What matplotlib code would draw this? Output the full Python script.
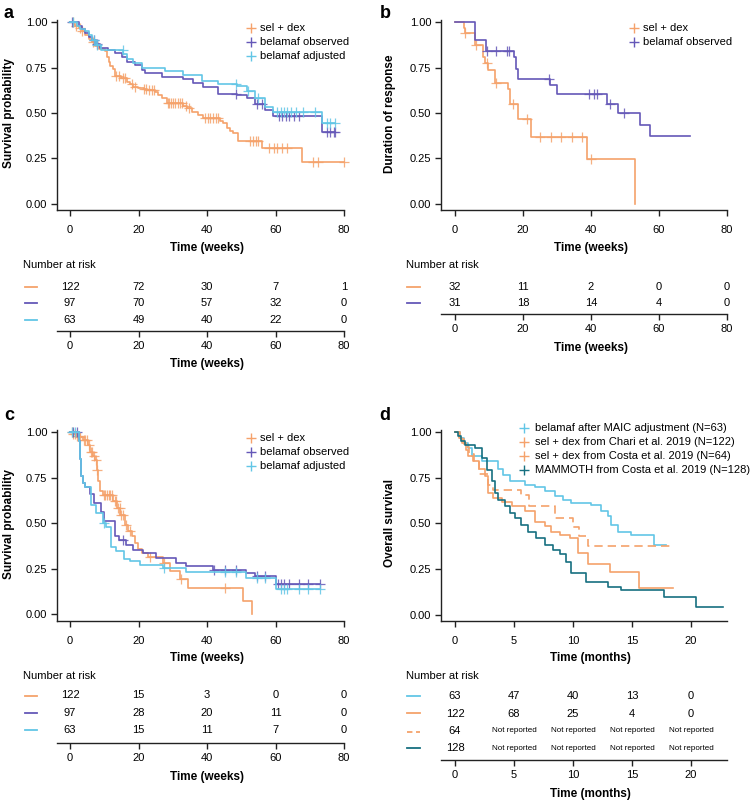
import numpy as np
import matplotlib
matplotlib.use("Agg")
import matplotlib.pyplot as plt
from matplotlib.lines import Line2D

plt.rcParams['font.family'] = ['Liberation Sans', 'DejaVu Sans']

# ---------------- colours ----------------
C_SEL = '#F5A26B'
C_OBS = '#6558B8'
C_ADJ = '#62C6E6'
C_MAM = '#177080'

# ---------------- panel a : overall survival (weeks) ----------------
a_sel_t = [0, 1.0, 1.5, 2.5, 3.5, 4.5, 5.5, 6.3, 7.3, 8.5, 10.2, 10.8, 11.3, 11.8, 12.5, 13.1, 15.0, 16.5,
           17.5, 18.5, 19.9, 21.5, 22.5, 24.8, 25.8, 26.8, 28.2, 33.1, 34.3, 35.5, 37.5, 38.9, 43.8, 44.8,
           45.7, 46.7, 47.5, 49.1, 56.0, 67.7]
a_sel_s = [1.0, 0.99, 0.98, 0.97, 0.95, 0.93, 0.91, 0.89, 0.87, 0.855, 0.84, 0.81, 0.78, 0.76, 0.74, 0.705,
           0.69, 0.672, 0.66, 0.645, 0.636, 0.63, 0.625, 0.617, 0.60, 0.581, 0.557, 0.54, 0.525, 0.507,
           0.489, 0.474, 0.455, 0.443, 0.415, 0.40, 0.388, 0.348, 0.309, 0.229]
a_sel_end = 80.0
a_sel_cens = [0.8, 1.8, 2.8, 3.5, 6.7, 13.5, 14.3, 15.5, 16.0, 18.0, 19.0, 21.5, 22.3, 23.0, 23.8, 24.5,
              28.5, 29.0, 29.6, 30.2, 30.8, 31.5, 32.2, 32.8, 34.0, 34.8, 39.5, 40.2, 41.0, 41.8, 42.6,
              43.3, 52.5, 53.3, 54.2, 55.0, 58.0, 59.5, 60.5, 62.0, 63.5, 71.0, 72.3, 80.0]

a_obs_t = [0, 2.5, 3.5, 4.5, 5.5, 6.5, 7.5, 8.8, 11.0, 13.0, 15.1, 16.5, 19.0, 20.9, 21.9, 27.0, 33.1,
           36.0, 38.9, 43.3, 48.7, 51.6, 54.0, 57.0, 59.4, 73.5]
a_obs_s = [1.0, 0.98, 0.96, 0.94, 0.92, 0.9, 0.88, 0.86, 0.845, 0.83, 0.81, 0.782, 0.764, 0.736, 0.72,
           0.70, 0.685, 0.665, 0.641, 0.605, 0.60, 0.58, 0.547, 0.516, 0.485, 0.397]
a_obs_end = 77.4
a_obs_cens = [0.5, 7.0, 8.0, 48.5, 54.5, 56.0, 61.0, 62.0, 63.0, 64.0, 65.5, 67.0, 75.0, 76.0, 77.0, 77.4]

a_adj_t = [0, 2.0, 3.0, 4.5, 5.5, 6.5, 7.5, 9.0, 15.6, 16.5, 18.5, 20.9, 27.7, 33.1, 38.4, 43.3, 48.7,
           51.6, 54.0, 57.0, 59.4, 73.5]
a_adj_s = [1.0, 0.98, 0.965, 0.95, 0.93, 0.9, 0.875, 0.846, 0.825, 0.80, 0.775, 0.745, 0.73, 0.71, 0.675,
           0.66, 0.648, 0.62, 0.58, 0.535, 0.507, 0.443]
a_adj_end = 77.4
a_adj_cens = [1.0, 7.0, 8.0, 15.5, 48.5, 52.0, 55.0, 60.5, 61.5, 62.5, 63.5, 64.5, 66.0, 68.0, 71.5,
              75.0, 76.0, 77.4]

a_risk_sel = [122, 72, 30, 7, 1]
a_risk_obs = [97, 70, 57, 32, 0]
a_risk_adj = [63, 49, 40, 22, 0]

# ---------------- panel b : duration of response ----------------
b_sel_t = [0, 2.6, 3.0, 5.9, 8.3, 8.8, 9.8, 11.8, 15.5, 16.2, 18.6, 22.3, 38.9, 52.9]
b_sel_s = [1.0, 0.97, 0.94, 0.874, 0.81, 0.773, 0.737, 0.666, 0.63, 0.548, 0.467, 0.37, 0.245, 0.0]
b_sel_end = 52.9
b_sel_cens = [3.0, 6.2, 9.5, 12.0, 17.0, 21.3, 25.0, 28.2, 31.3, 34.3, 37.3, 40.0]

b_obs_t = [0, 5.9, 9.0, 17.3, 17.8, 18.4, 28.0, 30.0, 44.8, 48.0, 54.4, 57.3]
b_obs_s = [1.0, 0.903, 0.839, 0.806, 0.742, 0.686, 0.653, 0.605, 0.55, 0.50, 0.435, 0.371]
b_obs_end = 69.0
b_obs_cens = [9.5, 12.0, 15.3, 16.0, 27.5, 39.3, 41.0, 41.8, 45.5, 49.8]

b_risk_sel = [32, 11, 2, 0, 0]
b_risk_obs = [31, 18, 14, 4, 0]

# ---------------- panel c : progression-free survival ----------------
c_sel_t = [0, 1.0, 2.0, 2.9, 3.9, 5.35, 5.8, 6.6, 7.3, 7.8, 8.3, 8.8, 9.7, 12.6, 13.6, 14.6, 16.1, 17.0,
           18.0, 19.0, 19.9, 20.9, 22.9, 27.2, 29.2, 32.1, 34.5, 50.6, 53.0]
c_sel_s = [1.0, 0.99, 0.98, 0.97, 0.957, 0.93, 0.89, 0.87, 0.848, 0.79, 0.73, 0.675, 0.655, 0.619,
           0.582, 0.546, 0.49, 0.454, 0.427, 0.39, 0.357, 0.335, 0.316, 0.28, 0.234, 0.192, 0.143,
           0.07, 0.0]
c_sel_end = 53.0
c_sel_cens = [0.5, 1.0, 1.5, 2.0, 2.5, 3.0, 4.0, 4.5, 5.0, 5.5, 6.0, 6.5, 7.0, 7.5, 8.0, 9.8, 10.3,
              10.8, 11.3, 11.8, 12.3, 13.0, 13.5, 14.0, 14.5, 15.0, 15.5, 16.3, 17.5, 23.5, 27.5,
              32.5, 45.3]

c_obs_t = [0, 2.7, 3.0, 3.3, 3.7, 4.5, 5.7, 7.1, 9.1, 10.0, 13.0, 14.4, 16.4, 18.3, 21.3, 25.2, 31.0,
           34.0, 41.8, 51.5, 54.0, 60.1]
c_obs_s = [1.0, 0.95, 0.85, 0.76, 0.72, 0.70, 0.66, 0.61, 0.56, 0.51, 0.427, 0.408, 0.38, 0.353, 0.335,
           0.308, 0.28, 0.262, 0.24, 0.225, 0.207, 0.167]
c_obs_end = 73.0
c_obs_cens = [1.0, 2.0, 15.5, 42.0, 45.3, 48.5, 54.5, 57.0, 60.8, 61.5, 62.5, 64.0, 67.0, 69.5, 73.0]

c_adj_t = [0, 2.7, 3.0, 3.3, 3.7, 4.5, 6.1, 7.6, 9.6, 10.5, 12.0, 13.5, 15.9, 17.4, 20.3, 27.1, 34.0,
           51.5, 60.1]
c_adj_s = [1.0, 0.95, 0.85, 0.76, 0.72, 0.70, 0.6, 0.555, 0.50, 0.48, 0.37, 0.344, 0.30, 0.29, 0.27,
           0.253, 0.23, 0.198, 0.137]
c_adj_end = 73.0
c_adj_cens = [0.5, 1.5, 10.0, 27.5, 45.3, 48.5, 54.5, 57.0, 61.5, 62.5, 63.5, 67.0, 69.5, 73.0]

c_risk_sel = [122, 15, 3, 0, 0]
c_risk_obs = [97, 28, 20, 11, 0]
c_risk_adj = [63, 15, 11, 7, 0]

# ---------------- panel d : overall survival (months) ----------------
d_maic_t = [0, 0.4, 0.8, 1.1, 1.4, 2.25, 3.66, 4.08, 4.65, 5.9, 6.76, 7.6, 8.45, 9.15, 9.86, 11.55,
            12.4, 12.96, 13.24, 13.8, 14.9, 16.9]
d_maic_s = [1.0, 0.97, 0.94, 0.91, 0.87, 0.84, 0.80, 0.766, 0.73, 0.71, 0.70, 0.675, 0.648, 0.63, 0.611,
            0.6, 0.566, 0.54, 0.493, 0.456, 0.438, 0.383]
d_maic_end = 17.9

d_chari_t = [0, 0.3, 0.6, 0.9, 1.1, 1.5, 2.0, 2.5, 2.82, 3.24, 3.94, 4.79, 5.92, 6.76, 7.6, 8.17, 8.87,
             9.72, 10.4, 11.27, 13.1, 15.63]
d_chari_s = [1.0, 0.97, 0.94, 0.9, 0.87, 0.84, 0.80, 0.757, 0.666, 0.64, 0.62, 0.597, 0.566, 0.51, 0.484,
             0.456, 0.438, 0.42, 0.338, 0.277, 0.237, 0.146]
d_chari_end = 18.45

d_costa_t = [0, 0.4, 0.8, 1.2, 1.6, 2.0, 2.8, 3.24, 5.6, 6.3, 8.5, 10.0, 10.5, 11.3]
d_costa_s = [1.0, 0.96, 0.92, 0.88, 0.84, 0.77, 0.71, 0.684, 0.657, 0.597, 0.53, 0.48, 0.432, 0.377]
d_costa_end = 18.5

d_mam_t = [0, 0.28, 0.5, 0.85, 1.69, 2.25, 2.68, 3.1, 3.38, 3.66, 4.23, 4.65, 5.07, 5.63, 6.2, 6.9, 7.6,
           8.3, 8.87, 9.44, 9.86, 11.13, 12.96, 14.08, 17.75, 20.42]
d_mam_s = [1.0, 0.98, 0.95, 0.93, 0.91, 0.858, 0.79, 0.73, 0.666, 0.63, 0.593, 0.557, 0.53, 0.493, 0.456,
           0.42, 0.383, 0.356, 0.334, 0.292, 0.228, 0.182, 0.155, 0.137, 0.1, 0.046]
d_mam_end = 22.68

d_risk_maic = ['63', '47', '40', '13', '0']
d_risk_chari = ['122', '68', '25', '4', '0']
d_risk_costa = ['64', 'Not reported', 'Not reported', 'Not reported', 'Not reported']
d_risk_mam = ['128', 'Not reported', 'Not reported', 'Not reported', 'Not reported']

weeks_ticks = [0, 20, 40, 60, 80]
months_ticks = [0, 5, 10, 15, 20]
y_ticks = [0.0, 0.25, 0.5, 0.75, 1.0]

# ---------------- figure helpers ----------------
W, H = 755, 802
fig = plt.figure(figsize=(W / 100, H / 100), dpi=100)
FS = 8
FSL = 8.5
SPC = '#222222'


def add_ax(x0, y0, x1, y1):
    return fig.add_axes([x0 / W, 1 - y1 / H, (x1 - x0) / W, (y1 - y0) / H])


def ftext(px, py, s, **kw):
    fig.text(px / W, 1 - py / H, s, **kw)


def fline(x0, x1, py, color, ls='-'):
    fig.add_artist(Line2D([x0 / W, x1 / W], [1 - py / H, 1 - py / H], color=color, lw=1.3, ls=ls,
                          dashes=(3, 2) if ls == '--' else (None, None)))


def km(ax, t, s, t_end, cens, color, ls='-'):
    t = np.asarray(t, float)
    s = np.asarray(s, float)
    tt = np.append(t, t_end)
    ss = np.append(s, s[-1])
    kw = dict(dashes=(5, 3)) if ls == '--' else {}
    ax.step(tt, ss, where='post', color=color, lw=1.2, clip_on=False, **kw)
    if cens is not None and len(cens):
        c = np.asarray(cens, float)
        idx = np.searchsorted(t, c, side='right') - 1
        ax.plot(c, s[idx], ls='none', marker='+', ms=6.5, mew=0.9, color=color, alpha=0.85, clip_on=False)


def style_main(ax, xlim, xticks):
    ax.set_xlim(*xlim)
    ax.set_ylim(-0.034, 1.012)
    for sp in ['top', 'right']:
        ax.spines[sp].set_visible(False)
    for sp in ['left', 'bottom']:
        ax.spines[sp].set_color(SPC)
        ax.spines[sp].set_linewidth(1.0)
    ax.set_xticks(xticks)
    ax.set_yticks(y_ticks)
    ax.set_yticklabels(['%.2f' % v for v in y_ticks])
    ax.tick_params(axis='x', length=4, width=1, labelsize=FS, pad=7, color=SPC)
    ax.tick_params(axis='y', length=4, width=1, labelsize=FS, pad=3, color=SPC)
    ax.patch.set_alpha(0)


def style_risk(ax, xlim, xticks, nrows):
    ax.set_xlim(*xlim)
    ax.set_ylim(-0.667, nrows - 1 + 0.667)
    for sp in ['top', 'right', 'left']:
        ax.spines[sp].set_visible(False)
    ax.spines['bottom'].set_color(SPC)
    ax.spines['bottom'].set_linewidth(1.0)
    ax.set_xticks(xticks)
    ax.set_yticks([])
    ax.tick_params(axis='x', length=4, width=1, labelsize=FS, pad=3, color=SPC)
    ax.patch.set_alpha(0)


def legend(ax, labels, colors, px, py, pitch=14, tpx=9):
    for i, (lab, col) in enumerate(zip(labels, colors)):
        y = py + i * pitch
        ax.plot([px / W], [1 - y / H], transform=fig.transFigure, marker='+', ms=6.5, mew=1.0,
                color=col, ls='none', clip_on=False)
        ftext(px + tpx, y, lab, fontsize=FS, va='center', ha='left')


def risk_rows(ax, ticks, rows):
    n = len(rows)
    for i, row in enumerate(rows):
        y = n - 1 - i
        for t, v in zip(ticks, row):
            fs = 5.8 if str(v) == 'Not reported' else FS
            ax.text(t, y, str(v), ha='center', va='center', fontsize=fs, clip_on=False)


# ---------------- panel a ----------------
ax = add_ax(57, 20, 344, 210)
style_main(ax, (-3.8, 80), weeks_ticks)
km(ax, a_sel_t, a_sel_s, a_sel_end, a_sel_cens, C_SEL)
km(ax, a_obs_t, a_obs_s, a_obs_end, a_obs_cens, C_OBS)
km(ax, a_adj_t, a_adj_s, a_adj_end, a_adj_cens, C_ADJ)
legend(ax, ['sel + dex', 'belamaf observed', 'belamaf adjusted'], [C_SEL, C_OBS, C_ADJ], 250.5, 28)
ftext(207, 248, 'Time (weeks)', fontsize=FSL, fontweight='bold', ha='center', va='center')
ftext(9, 113, 'Survival probability', fontsize=FSL, fontweight='bold', ha='center', va='center', rotation=90)
ftext(8, 14, 'a', fontsize=13, fontweight='bold', ha='center', va='center')

ax = add_ax(57, 276, 344, 331)
style_risk(ax, (-3.8, 80), weeks_ticks, 3)
risk_rows(ax, weeks_ticks, [a_risk_sel, a_risk_obs, a_risk_adj])
ftext(23, 265, 'Number at risk', fontsize=FS, ha='left', va='center')
fline(25, 37, 287, C_SEL)
fline(25, 37, 303.5, C_OBS)
fline(25, 37, 320, C_ADJ)
ftext(207, 364, 'Time (weeks)', fontsize=FSL, fontweight='bold', ha='center', va='center')

# ---------------- panel b ----------------
ax = add_ax(441, 20, 727, 210)
style_main(ax, (-4.12, 80), weeks_ticks)
km(ax, b_sel_t, b_sel_s, b_sel_end, b_sel_cens, C_SEL)
km(ax, b_obs_t, b_obs_s, b_obs_end, b_obs_cens, C_OBS)
legend(ax, ['sel + dex', 'belamaf observed'], [C_SEL, C_OBS], 634, 28)
ftext(591, 248, 'Time (weeks)', fontsize=FSL, fontweight='bold', ha='center', va='center')
ftext(390, 114, 'Duration of response', fontsize=FSL, fontweight='bold', ha='center', va='center', rotation=90)
ftext(385, 13, 'b', fontsize=13, fontweight='bold', ha='center', va='center')

ax = add_ax(441, 276, 727, 314)
style_risk(ax, (-4.12, 80), weeks_ticks, 2)
ax.set_ylim(-0.667, 1.667)
risk_rows(ax, weeks_ticks, [b_risk_sel, b_risk_obs])
ftext(406, 265, 'Number at risk', fontsize=FS, ha='left', va='center')
fline(407, 420, 287, C_SEL)
fline(407, 420, 303, C_OBS)
ftext(591, 348, 'Time (weeks)', fontsize=FSL, fontweight='bold', ha='center', va='center')

# ---------------- panel c ----------------
ax = add_ax(57, 430, 344, 621)
style_main(ax, (-3.8, 80), weeks_ticks)
ax.set_ylim(-0.038, 1.011)
km(ax, c_sel_t, c_sel_s, c_sel_end, c_sel_cens, C_SEL)
km(ax, c_obs_t, c_obs_s, c_obs_end, c_obs_cens, C_OBS)
km(ax, c_adj_t, c_adj_s, c_adj_end, c_adj_cens, C_ADJ)
legend(ax, ['sel + dex', 'belamaf observed', 'belamaf adjusted'], [C_SEL, C_OBS, C_ADJ], 250.5, 438)
ftext(207, 658, 'Time (weeks)', fontsize=FSL, fontweight='bold', ha='center', va='center')
ftext(9, 524, 'Survival probability', fontsize=FSL, fontweight='bold', ha='center', va='center', rotation=90)
ftext(9, 415, 'c', fontsize=13, fontweight='bold', ha='center', va='center')

ax = add_ax(57, 685, 344, 743)
style_risk(ax, (-3.8, 80), weeks_ticks, 3)
ax.set_ylim(-0.76, 2.6)
risk_rows(ax, weeks_ticks, [c_risk_sel, c_risk_obs, c_risk_adj])
ftext(23, 676, 'Number at risk', fontsize=FS, ha='left', va='center')
fline(25, 37, 696, C_SEL)
fline(25, 37, 713, C_OBS)
fline(25, 37, 730, C_ADJ)
ftext(207, 777, 'Time (weeks)', fontsize=FSL, fontweight='bold', ha='center', va='center')

# ---------------- panel d ----------------
ax = add_ax(441, 430, 727, 621)
style_main(ax, (-1.19, 23.05), months_ticks)
ax.set_ylim(-0.033, 1.011)
km(ax, d_maic_t, d_maic_s, d_maic_end, None, C_ADJ)
km(ax, d_chari_t, d_chari_s, d_chari_end, None, C_SEL)
km(ax, d_costa_t, d_costa_s, d_costa_end, None, C_SEL, ls='--')
km(ax, d_mam_t, d_mam_s, d_mam_end, None, C_MAM)
legend(ax, ['belamaf after MAIC adjustment (N=63)', 'sel + dex from Chari et al. 2019 (N=122)',
            'sel + dex from Costa et al. 2019 (N=64)', 'MAMMOTH from Costa et al. 2019 (N=128)'],
       [C_ADJ, C_SEL, C_SEL, C_MAM], 524, 428, tpx=11)
ftext(590, 658, 'Time (months)', fontsize=FSL, fontweight='bold', ha='center', va='center')
ftext(390, 523, 'Overall survival', fontsize=FSL, fontweight='bold', ha='center', va='center', rotation=90)
ftext(385, 415, 'd', fontsize=13, fontweight='bold', ha='center', va='center')

ax = add_ax(441, 686, 727, 760)
style_risk(ax, (-1.19, 23.05), months_ticks, 4)
ax.set_ylim(-0.68, 3.6)
risk_rows(ax, months_ticks, [d_risk_maic, d_risk_chari, d_risk_costa, d_risk_mam])
ftext(406, 676, 'Number at risk', fontsize=FS, ha='left', va='center')
fline(407, 420, 696, C_ADJ)
fline(407, 420, 713, C_SEL)
fline(407, 420, 732, C_SEL, ls='--')
fline(407, 420, 748, C_MAM)
ftext(590, 794, 'Time (months)', fontsize=FSL, fontweight='bold', ha='center', va='center')

fig.savefig('out.png', dpi=100)
